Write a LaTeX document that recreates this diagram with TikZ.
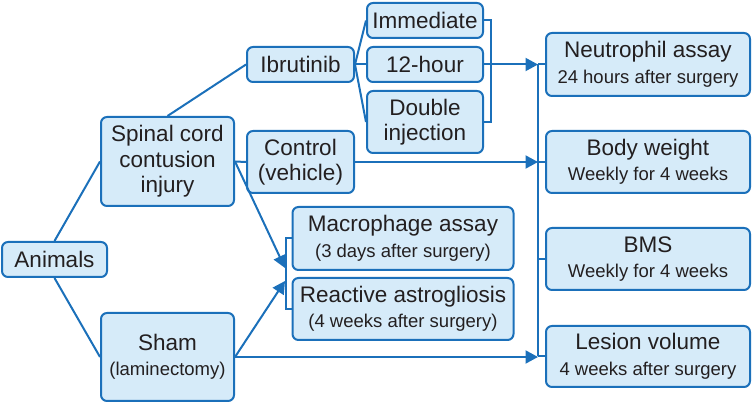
\documentclass[tikz,border=0pt]{standalone}
\usepackage{fontspec}
\setmainfont{Liberation Sans}
\usetikzlibrary{arrows.meta}

\definecolor{lineblue}{RGB}{27,112,186}
\definecolor{boxfill}{RGB}{214,235,249}
\definecolor{ink}{RGB}{35,31,32}
\newcommand{\bigsz}{\fontsize{22.5}{25.5}\selectfont}
\newcommand{\smallsz}{\fontsize{18.5}{25}\selectfont}

\tikzset{
 box/.style={draw=lineblue, fill=boxfill, line width=2pt, rounded corners=6pt,
  align=center, text=ink, font=\bigsz, inner sep=0pt},
 link/.style={draw=lineblue, line width=2pt},
 arr/.style={link, -{Triangle[length=12.5pt,width=13pt]}}
}

\begin{document}
\begin{tikzpicture}[x=1pt, y=-1pt]
 \useasboundingbox (0,0) rectangle (753,403);

 \node[box, minimum width=105pt, minimum height=35pt] (anim) at (54.5,259.5) {Animals};
 \node[box, minimum width=133pt, minimum height=89pt] (sci) at (167.5,161.5) {Spinal cord\\contusion\\injury};
 \node[box, minimum width=133pt, minimum height=88pt] (sham) at (167.5,357) {Sham\\{\smallsz(laminectomy)}};
 \node[box, minimum width=107pt, minimum height=35pt] (ibr) at (300.5,64.5) {Ibrutinib};
 \node[box, minimum width=107pt, minimum height=62pt] (ctl) at (300.5,162) {Control\\(vehicle)};
 \node[box, minimum width=116pt, minimum height=35pt] (imm) at (425,20.5) {Immediate};
 \node[box, minimum width=116pt, minimum height=35pt] (h12) at (425,64.5) {12-hour};
 \node[box, minimum width=116pt, minimum height=62pt] (dbl) at (425,122) {Double\\injection};
 \node[box, minimum width=221pt, minimum height=63pt] (mac) at (403,238.5) {Macrophage assay\\{\smallsz(3 days after surgery)}};
 \node[box, minimum width=221pt, minimum height=62pt] (ast) at (403,309) {Reactive astrogliosis\\{\smallsz(4 weeks after surgery)}};
 \node[box, minimum width=204pt, minimum height=63pt] (neu) at (648,64.5) {Neutrophil assay\\{\smallsz 24 hours after surgery}};
 \node[box, minimum width=204pt, minimum height=62pt] (bw) at (648,162) {Body weight\\{\smallsz Weekly for 4 weeks}};
 \node[box, minimum width=204pt, minimum height=62pt] (bms) at (648,259) {BMS\\{\smallsz Weekly for 4 weeks}};
 \node[box, minimum width=204pt, minimum height=61pt] (les) at (648,356.5) {Lesion volume\\{\smallsz 4 weeks after surgery}};

 \coordinate (brk) at (491,0);
 \coordinate (bus) at (538,0);
 \coordinate (lbr) at (286,0);
 \coordinate (in1) at (285,268);
 \coordinate (in2) at (285,281);

 \draw[link] (anim.north) -- (sci.west);
 \draw[link] (anim.south) -- (sham.west);
 \draw[link] (sci.north) -- (ibr.west);
 \draw[link] (sci.east) -- (ctl.west);
 \foreach \t in {imm,h12,dbl}
  \draw[link] (ibr.east) -- (\t.west);
 \draw[link] (imm.east) -- (imm.east -| brk) -- (dbl.east -| brk) -- (dbl.east);

 \draw[link] (mac.west) -- (mac.west -| lbr) -- (ast.west -| lbr) -- (ast.west);
 \draw[arr] (sci.east) -- (in1);
 \draw[arr] (sham.east) -- (in2);

 \draw[link] (neu.west -| bus) -- (les.west -| bus);
 \foreach \t in {neu,bw,bms,les}
  \draw[link] (\t.west -| bus) -- (\t.west);
 \draw[arr] (h12.east) -- (h12.east -| bus);
 \draw[arr] (ctl.east) -- (ctl.east -| bus);
 \draw[arr] (sham.east) -- (sham.east -| bus);
\end{tikzpicture}
\end{document}
